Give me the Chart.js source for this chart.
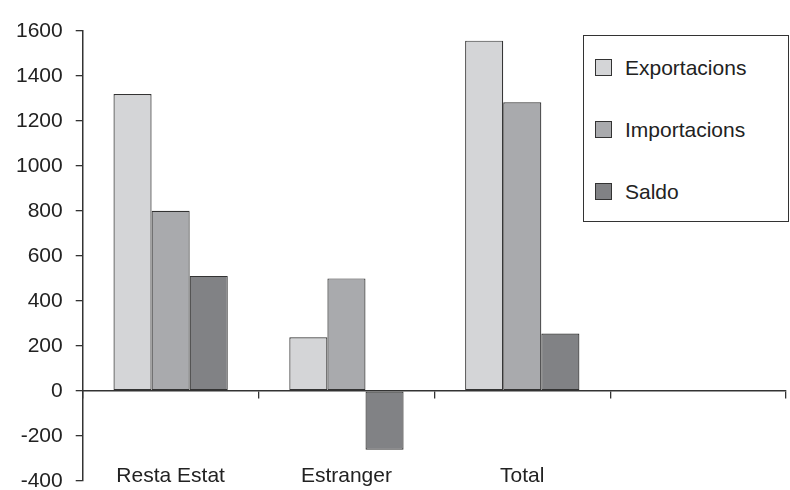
<!DOCTYPE html>
<html>
<head>
<meta charset="utf-8">
<script src="https://cdn.jsdelivr.net/npm/chart.js@4.4.1/dist/chart.umd.min.js"></script>
<style>
  html, body { margin: 0; padding: 0; background: #fff; overflow: hidden; }
  #wrap { position: relative; width: 790px; height: 490px; overflow: hidden; }
  #legend {
    position: absolute; left: 583px; top: 35px; width: 204px; height: 185px;
    border: 1.5px solid #333; background: #fff;
    font-family: "Liberation Sans Narrow", "Arial Narrow", "Liberation Sans", Arial, sans-serif;
    font-size: 21px; color: #222;
  }
  .item { position: absolute; left: 11px; height: 28px; line-height: 28px; white-space: nowrap; }
  .sw { position: absolute; left: 0; top: 5px; width: 15px; height: 15px; border: 1.5px solid #333; }
  .lbl { position: absolute; left: 30px; top: 0px; }
</style>
</head>
<body>
<div id="wrap">
  <canvas id="c" width="790" height="498"></canvas>
  <div id="legend"></div>
</div>
<script>
const categories = ["Resta Estat", "Estranger", "Total", ""];
const seriesNames = ["Exportacions", "Importacions", "Saldo"];
const exportacions = [1320, 238, 1557, null];
const importacions = [801, 500, 1283, null];
const saldo = [511, -262, 255, null];
const seriesColors = ["#d4d5d7", "#a9aaad", "#818285"];
const yTicks = { min: -400, max: 1600, step: 200 };

const FONT = "'Liberation Sans', Arial, sans-serif";
const values = [exportacions, importacions, saldo];

const datasets = seriesNames.map((name, i) => ({
  label: name,
  data: values[i],
  backgroundColor: seriesColors[i],
  borderColor: "#333",
  borderWidth: 1.2,
  borderSkipped: false,
  categoryPercentage: 0.65,
  barPercentage: 1.0,
  xAxisID: "x",
  yAxisID: "y"
}));

const chart = new Chart(document.getElementById("c"), {
  type: "bar",
  data: { labels: categories, datasets },
  options: {
    responsive: false,
    animation: false,
    devicePixelRatio: 1,
    layout: { padding: { left: 3, top: 31, right: 4, bottom: 0 } },
    plugins: { legend: { display: false }, tooltip: { enabled: false } },
    scales: {
      x: {
        type: "category",
        position: { y: 0 },
        offset: true,
        grid: { display: true, offset: true, drawOnChartArea: false, drawTicks: true, tickLength: 7, color: "#333", lineWidth: 1.3 },
        border: { display: true, color: "#333", width: 1.5 },
        ticks: { display: false }
      },
      xl: {
        type: "category",
        position: { y: -400 },
        offset: true,
        grid: { display: false },
        border: { display: false },
        ticks: { display: true, padding: -25, color: "#222", font: { family: FONT, size: 21 } }
      },
      y: {
        position: "left",
        min: yTicks.min,
        max: yTicks.max,
        grid: { display: true, drawOnChartArea: false, drawTicks: true, tickLength: 7, color: "#333", lineWidth: 1.3 },
        border: { display: true, color: "#333", width: 1.5 },
        ticks: {
          stepSize: yTicks.step, padding: 13, color: "#222",
          font: { family: FONT, size: 21, lineHeight: 0.4 },
          callback: (v) => String(v)
        }
      }
    }
  }
});

const legend = document.getElementById("legend");
const tops = [18, 80, 142];
chart.data.datasets.forEach((ds, i) => {
  const it = document.createElement("div");
  it.className = "item";
  it.style.top = tops[i] + "px";
  const sw = document.createElement("span");
  sw.className = "sw";
  sw.style.background = ds.backgroundColor;
  const tx = document.createElement("span");
  tx.className = "lbl";
  tx.textContent = ds.label;
  it.appendChild(sw); it.appendChild(tx);
  legend.appendChild(it);
});
</script>
</body>
</html>
